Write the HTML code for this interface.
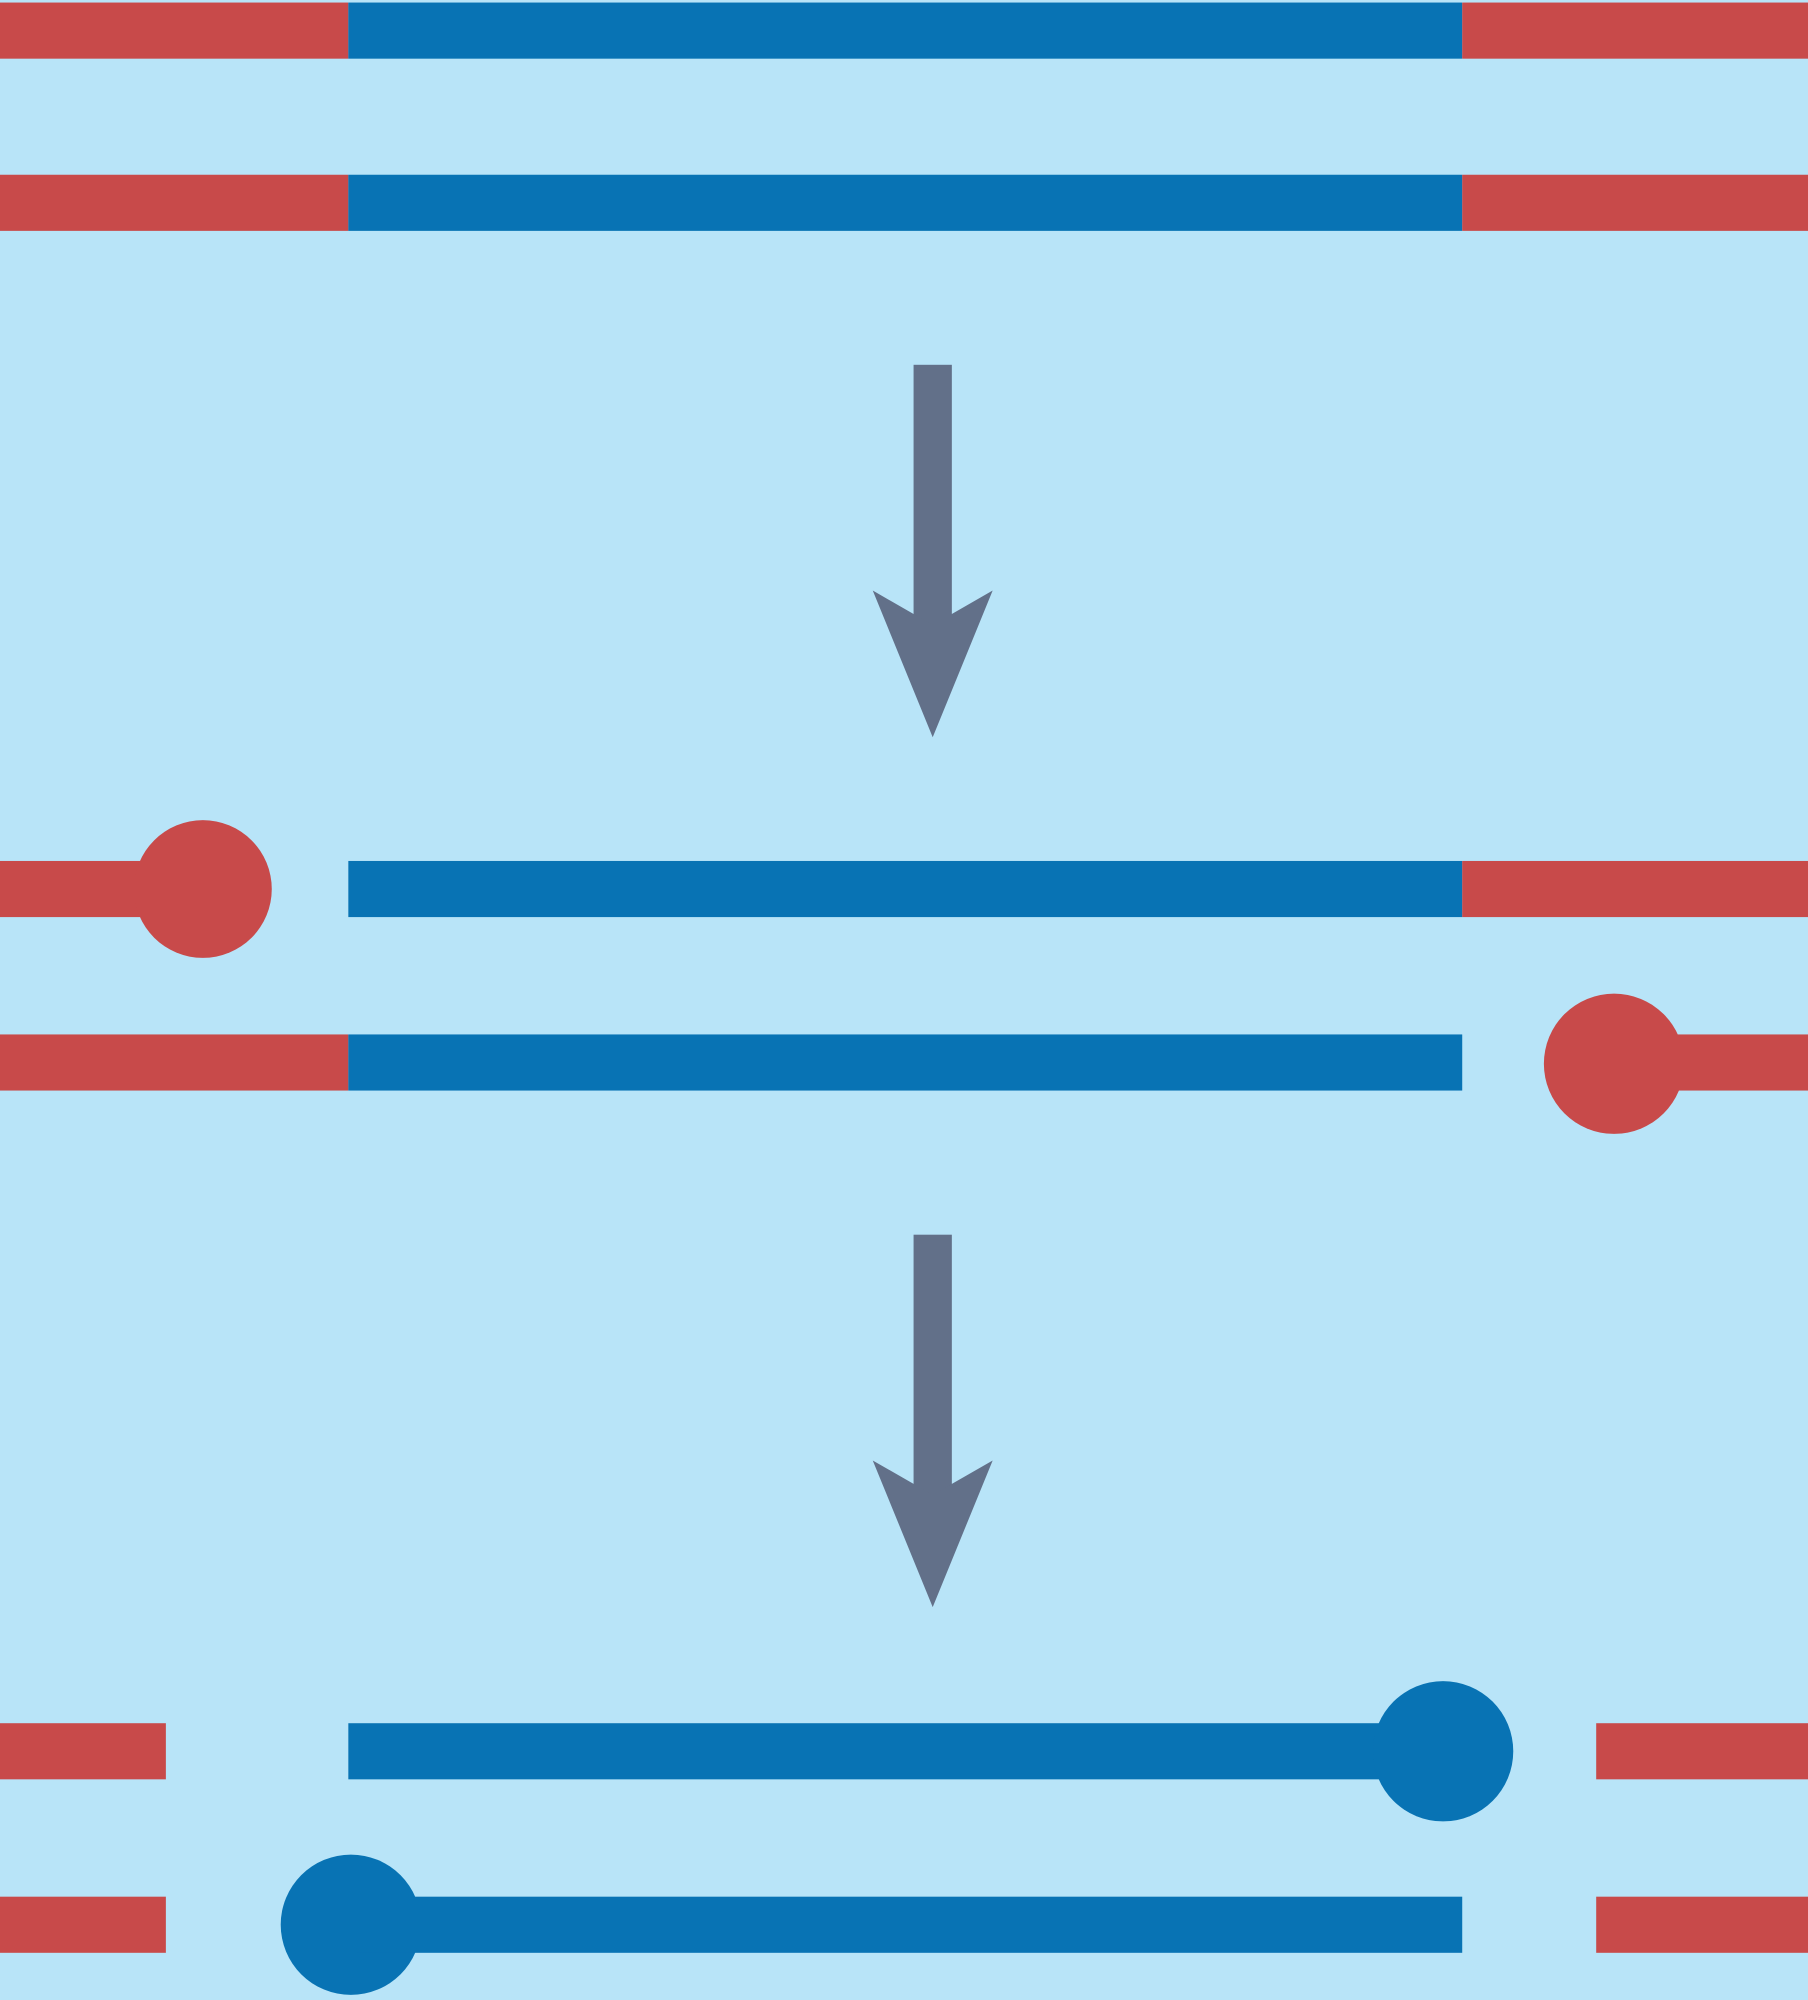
<!DOCTYPE html>
<html><head><meta charset="utf-8"><style>html,body{margin:0;padding:0;background:#b8e4f8}svg{display:block}</style></head>
<body>
<svg width="1808" height="2000" viewBox="0 0 1417 1568" preserveAspectRatio="none" xmlns="http://www.w3.org/2000/svg">
<rect width="1417" height="1568" fill="#b8e4f8"/>
<!-- row 1 -->
<rect x="0" y="2" width="273" height="44" fill="#c84a4a"/>
<rect x="273" y="2" width="873" height="44" fill="#0873b4"/>
<rect x="1146" y="2" width="271" height="44" fill="#c84a4a"/>
<!-- row 2 -->
<rect x="0" y="137" width="273" height="44" fill="#c84a4a"/>
<rect x="273" y="137" width="873" height="44" fill="#0873b4"/>
<rect x="1146" y="137" width="271" height="44" fill="#c84a4a"/>
<!-- arrow 1 -->
<rect x="716" y="286" width="30" height="210" fill="#627089"/>
<polygon points="684,463 731,490 778,463 731,578" fill="#627089"/>
<!-- row 3 -->
<rect x="0" y="675" width="140" height="44" fill="#c84a4a"/>
<circle cx="159" cy="697" r="54" fill="#c84a4a"/>
<rect x="273" y="675" width="873" height="44" fill="#0873b4"/>
<rect x="1146" y="675" width="271" height="44" fill="#c84a4a"/>
<!-- row 4 -->
<rect x="0" y="811" width="273" height="44" fill="#c84a4a"/>
<rect x="273" y="811" width="873" height="44" fill="#0873b4"/>
<circle cx="1265" cy="834" r="55" fill="#c84a4a"/>
<rect x="1270" y="811" width="147" height="44" fill="#c84a4a"/>
<!-- arrow 2 -->
<rect x="716" y="968" width="30" height="210" fill="#627089"/>
<polygon points="684,1145 731,1172 778,1145 731,1260" fill="#627089"/>
<!-- row 5 -->
<rect x="0" y="1351" width="130" height="44" fill="#c84a4a"/>
<rect x="273" y="1351" width="850" height="44" fill="#0873b4"/>
<circle cx="1131" cy="1373" r="55" fill="#0873b4"/>
<rect x="1251" y="1351" width="166" height="44" fill="#c84a4a"/>
<!-- row 6 -->
<rect x="0" y="1487" width="130" height="44" fill="#c84a4a"/>
<circle cx="275" cy="1509" r="55" fill="#0873b4"/>
<rect x="280" y="1487" width="866" height="44" fill="#0873b4"/>
<rect x="1251" y="1487" width="166" height="44" fill="#c84a4a"/>
</svg>
</body></html>
